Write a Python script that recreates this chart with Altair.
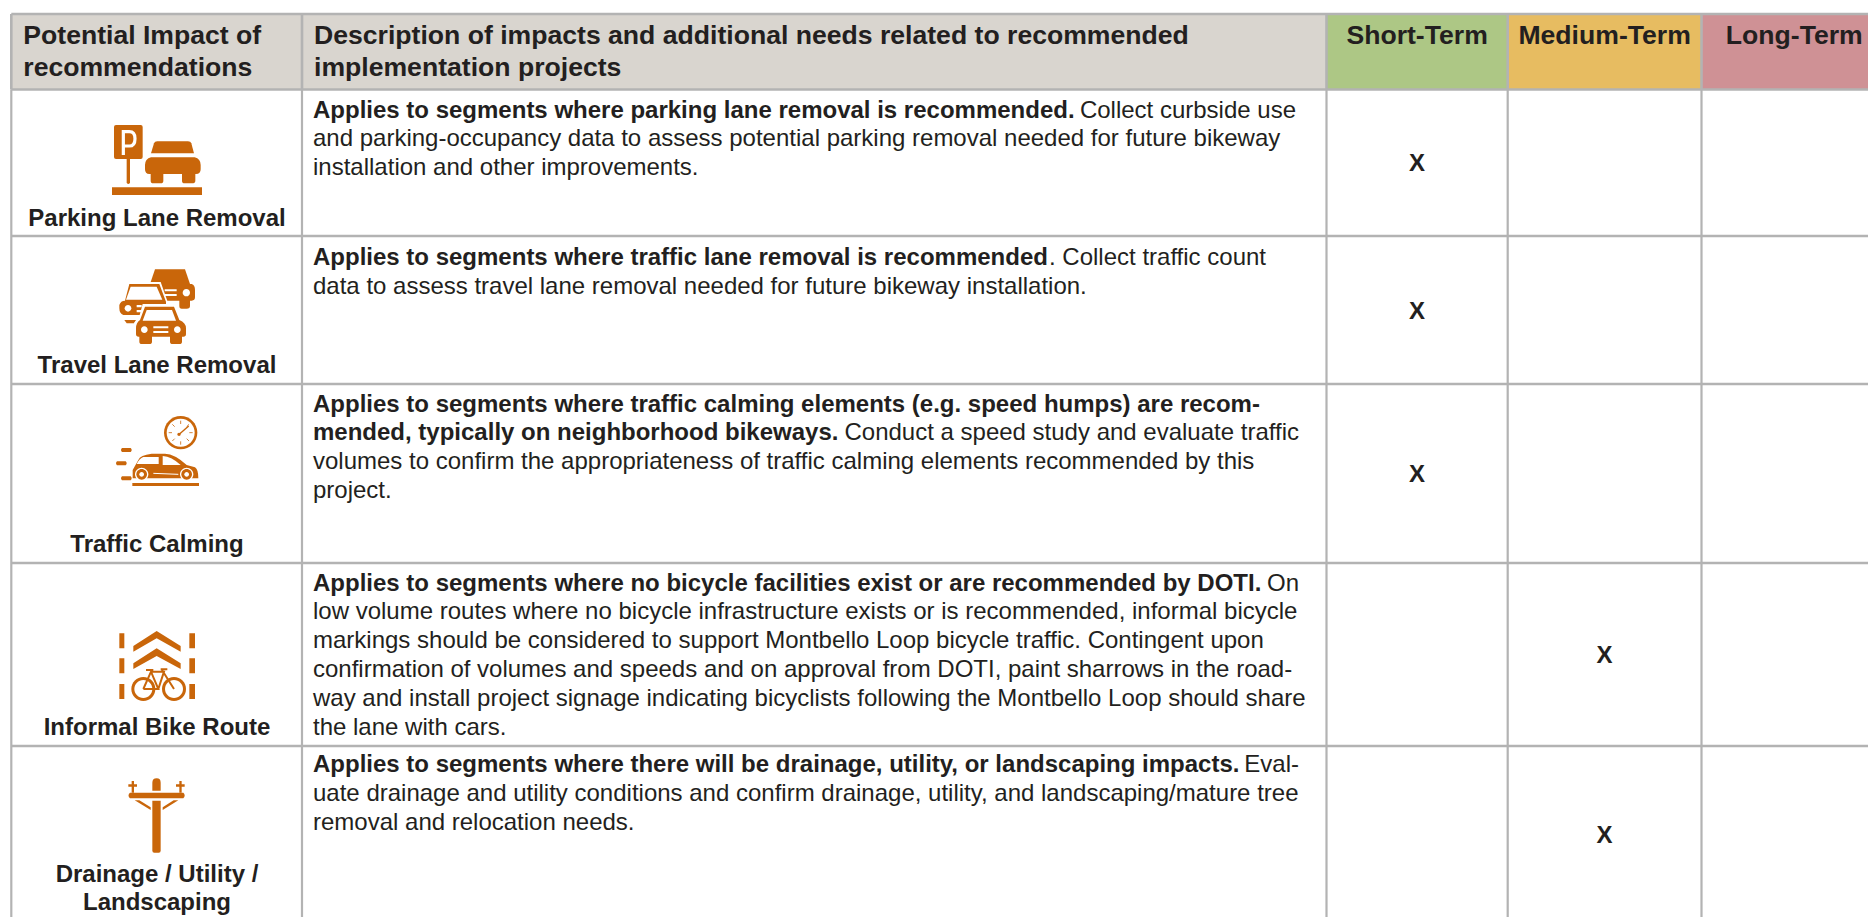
import altair as alt
import pandas as pd

# ---- content -------------------------------------------------------------
header_left = [["Potential Impact of", "recommendations"],
               ["Description of impacts and additional needs related to recommended",
                "implementation projects"]]
header_terms = ["Short-Term", "Medium-Term", "Long-Term"]
term_fills = ["#adc785", "#e7bc61", "#cf9195"]
impact_labels = [["Parking Lane Removal"], ["Travel Lane Removal"], ["Traffic Calming"],
                 ["Informal Bike Route"], ["Drainage / Utility /", "Landscaping"]]
# each line: (bold part, regular part)
descriptions = [
    [("Applies to segments where parking lane removal is recommended.", "Collect curbside use"),
     ("", "and parking-occupancy data to assess potential parking removal needed for future bikeway"),
     ("", "installation and other improvements.")],
    [("Applies to segments where traffic lane removal is recommended", ". Collect traffic count"),
     ("", "data to assess travel lane removal needed for future bikeway installation.")],
    [("Applies to segments where traffic calming elements (e.g. speed humps) are recom-", ""),
     ("mended, typically on neighborhood bikeways.", "Conduct a speed study and evaluate traffic"),
     ("", "volumes to confirm the appropriateness of traffic calming elements recommended by this"),
     ("", "project.")],
    [("Applies to segments where no bicycle facilities exist or are recommended by DOTI.", "On"),
     ("", "low volume routes where no bicycle infrastructure exists or is recommended, informal bicycle"),
     ("", "markings should be considered to support Montbello Loop bicycle traffic. Contingent upon"),
     ("", "confirmation of volumes and speeds and on approval from DOTI, paint sharrows in the road-"),
     ("", "way and install project signage indicating bicyclists following the Montbello Loop should share"),
     ("", "the lane with cars.")],
    [("Applies to segments where there will be drainage, utility, or landscaping impacts.", "Eval-"),
     ("", "uate drainage and utility conditions and confirm drainage, utility, and landscaping/mature tree"),
     ("", "removal and relocation needs.")],
]
term_marks = [0, 0, 0, 1, 1]   # which term column holds the X in each row

# ---- layout (page pixels) ------------------------------------------------
col_edges = [11.3, 302, 1326.5, 1507.7, 1701.5, 1887]
row_edges = [14, 89.5, 236, 384, 563, 746, 922]
tail_end = {(0, 0): 1296, (1, 0): 1266, (2, 1): 1299, (3, 0): 1299, (4, 0): 1299}
first_baseline = [117.5, 265, 411.5, 590.5, 772]
LINE_H = 28.8
HEAD_SIZE, BODY_SIZE, LABEL_SIZE = 26.6, 24, 24
INK, ICON, GRID = "#231f20", "#c9660a", "#b3b3b3"
W = 1868
H = 917


def circle(cx, cy, r):
    k = 0.5523 * r
    return (f"M{cx-r} {cy}C{cx-r} {cy-k} {cx-k} {cy-r} {cx} {cy-r}"
            f"C{cx+k} {cy-r} {cx+r} {cy-k} {cx+r} {cy}"
            f"C{cx+r} {cy+k} {cx+k} {cy+r} {cx} {cy+r}"
            f"C{cx-k} {cy+r} {cx-r} {cy+k} {cx-r} {cy}Z")


# Icon glyphs, in units of a third of a pixel, origin at the listed anchor.
# Each part: (path, fill colour, stroke colour or "", stroke width)
O, B = ICON, "#ffffff"
icons = [
    ((90, 110), [
        ("M78 45H152Q158 45 158 51V141Q158 147 152 147H78Q72 147 72 141V51Q72 45 78 45Z", O, "", 0),
        ("M110 147H120V218Q115 226 110 218Z", O, "", 0),
        ("M66 232H336V255H66Z", O, "", 0),
        ("M183 130L192 100Q194 94 202 94H294Q302 94 304 100L312 130Z", O, "", 0),
        ("M165 178V165Q165 147 183 142H314Q332 147 332 165V178Q332 192 318 192H316V212Q316 220 306 220H284Q276 220 276 212V192H220V212Q220 220 212 220H190Q182 220 182 212V192H178Q165 192 165 178Z", O, "", 0),
        ("M100 135V65H118Q135 65 135 86Q135 108 118 108H100", "", B, 3.2),
    ]),
    ((90, 260), [
        ("M195 28H285L300 72H180Z", O, "", 0),
        ("M210 72H305Q315 75 315 90V112Q315 122 305 122H300V138Q300 146 290 146H275Q268 146 268 138V122H210Z", O, "", 0),
        (circle(289, 98, 11), B, "", 0),
        ("M224 88H260V94H224ZM224 102H260V108H224Z", B, "", 0),
        ("M112 66H212L234 128V172H100Q82 166 82 145V135Q86 118 100 116Z", B, "", 0),
        ("M118 72H208L228 125V165H100Q88 160 88 145V135Q92 122 105 122Z", O, "", 0),
        ("M122 80H200L217 119H108Z", B, "", 0),
        (circle(114, 145, 10), B, "", 0),
        ("M140 135H155V142H140ZM140 150H155V157H140Z", B, "", 0),
        ("M103 180H138L132 190H110Z", O, "", 0),
        ("M158 132H258L276 176Q296 185 296 205V258H130V200Q130 185 146 176Z", B, "", 0),
        ("M165 140H252L268 180Q288 188 288 205V222Q288 230 280 230H276V245Q276 252 268 252H248Q240 252 240 245V230H186V245Q186 252 178 252H156Q148 252 148 245V230H146Q138 230 138 222V205Q138 188 150 180Z", O, "", 0),
        ("M170 150H246L258 182H158Z", B, "", 0),
        (circle(163, 209, 10), B, "", 0),
        (circle(262, 209, 10), B, "", 0),
        ("M190 199H235V205H190ZM190 213H235V219H190Z", B, "", 0),
    ]),
    ((90, 410), [
        (circle(272, 68, 50), O, "", 0),
        (circle(272, 68, 42), B, "", 0),
        ("M272 32V42M272 94V104M236 68H246M298 68H308M247 43L254 50M290 86L297 93M247 93L254 86M290 50L297 43", "", O, 0.8),
        ("M266 74L296 48", "", O, 1.4),
        (circle(267, 73, 5), O, "", 0),
        ("M96 114H122Q128 120 122 126H96Q90 120 96 114Z", O, "", 0),
        ("M81 154H107Q113 160 107 166H81Q75 160 81 154Z", O, "", 0),
        ("M96 199H122Q128 205 122 211H96Q90 205 96 199Z", O, "", 0),
        ("M128 205V180L145 150Q150 135 185 131H225Q255 132 290 165L315 172Q325 178 325 205Z", O, "", 0),
        ("M160 141H206V162H140Q148 146 160 141Z", B, "", 0),
        ("M218 138Q245 140 272 165H218Z", B, "", 0),
        ("M190 190L265 193", "", B, 1),
        (circle(155, 193, 20), B, "", 0),
        (circle(290, 193, 20), B, "", 0),
        (circle(155, 193, 16), O, "", 0),
        (circle(290, 193, 16), O, "", 0),
        (circle(155, 193, 7), B, "", 0),
        (circle(290, 193, 7), B, "", 0),
        ("M127 219H327V228H127Z", O, "", 0),
    ]),
    ((90, 620), [
        ("M88 40H103V85H88ZM88 115H103V160H88ZM88 192H103V237H88Z", O, "", 0),
        ("M298 40H315V85H298ZM298 115H315V160H298ZM298 192H315V237H298Z", O, "", 0),
        ("M130 78L200 33L272 78V95L200 55L130 95Z", O, "", 0),
        ("M130 130L200 85L272 130V147L200 108L130 147Z", O, "", 0),
        (circle(160, 207, 36), O, "", 0),
        (circle(160, 207, 27), B, "", 0),
        (circle(252, 207, 36), O, "", 0),
        (circle(252, 207, 27), B, "", 0),
        ("M160 207H205L183 155L160 207M183 155H222L205 207M216 150L252 207M168 150H190M212 148H232", "", O, 2),
    ]),
    ((100, 770), [
        ("M157 62V38Q157 25 170 25Q182 25 182 38V62Z", O, "", 0),
        ("M90 68H250Q258 76 250 85H90Q81 76 90 68Z", O, "", 0),
        ("M157 92H182V242Q182 248 176 248H163Q157 248 157 242Z", O, "", 0),
        ("M95 33H102V43H111V50H102V68H95V50H85V43H95Z", O, "", 0),
        ("M238 33H245V43H254V50H245V68H238V50H228V43H238Z", O, "", 0),
        ("M104 91H118L152 112V120Z", O, "", 0),
        ("M235 91H221L188 112V120Z", O, "", 0),
    ]),
]

# ---- tables --------------------------------------------------------------
cells = []
for i, fill in enumerate(["#d9d5cf", "#d9d5cf"] + term_fills):
    cells.append(dict(x=col_edges[i], x2=col_edges[i + 1], y=row_edges[0], y2=row_edges[1], fill=fill))

rules = []
for k, x in enumerate(col_edges[:-1]):
    rules.append(dict(x=x, x2=x, y=row_edges[0], y2=row_edges[1], w=2.6))
    rules.append(dict(x=x, x2=x, y=row_edges[1], y2=row_edges[-1], w=2.2))
rules.append(dict(x=col_edges[0], x2=col_edges[-1], y=row_edges[0], y2=row_edges[0], w=2.6))
rules.append(dict(x=col_edges[0], x2=col_edges[-1], y=row_edges[1], y2=row_edges[1], w=2.6))
for y in row_edges[2:-1]:
    rules.append(dict(x=col_edges[0], x2=col_edges[-1], y=y, y2=y, w=2.4))

head_l, head_c, label_c, body_b, body_r, tail_r = [], [], [], [], [], []
for c, lines in enumerate(header_left):
    for j, t in enumerate(lines):
        head_l.append(dict(x=col_edges[c] + 12, y=43.5 + 32.5 * j, t=t, s=HEAD_SIZE))
for c, t in enumerate(header_terms):
    head_c.append(dict(x=(col_edges[c + 2] + col_edges[c + 3]) / 2, y=43.5, t=t, s=HEAD_SIZE))
for r, lines in enumerate(impact_labels):
    bottom = [226, 372.5, 552, 735, 910][r]
    for j, t in enumerate(lines):
        label_c.append(dict(x=157, y=bottom - 28.5 * (len(lines) - 1 - j), t=t, s=LABEL_SIZE))
    mid = (row_edges[r + 1] + row_edges[r + 2]) / 2
    tc = term_marks[r]
    label_c.append(dict(x=(col_edges[tc + 2] + col_edges[tc + 3]) / 2, y=mid + 8.5, t="X", s=LABEL_SIZE))
for r, lines in enumerate(descriptions):
    for j, (bold, reg) in enumerate(lines):
        y = first_baseline[r] + LINE_H * j
        if bold:
            body_b.append(dict(x=313, y=y, t=bold, s=BODY_SIZE))
        if reg and (r, j) in tail_end:
            tail_r.append(dict(x=tail_end[(r, j)], y=y, t=reg, s=BODY_SIZE))
        elif reg:
            body_r.append(dict(x=313, y=y, t=reg, s=BODY_SIZE))

parts = []
for (ox, oy), glyphs in icons:
    for path, fill, stroke, sw in glyphs:
        parts.append(dict(x=ox, y=oy, path=path, fill=fill, stroke=stroke, sw=sw))
parts = pd.DataFrame(parts)

# ---- chart ---------------------------------------------------------------
X = alt.Scale(domain=[8, W], range=[0, W - 8], nice=False, zero=False)
Y = alt.Scale(domain=[8, H], range=[0, H - 8], nice=False, zero=False)
ex = alt.X("x:Q", scale=X, axis=None)
ey = alt.Y("y:Q", scale=Y, axis=None)


def text_layer(rows, weight, align):
    return alt.Chart(pd.DataFrame(rows)).mark_text(
        font="Liberation Sans", fontWeight=weight, align=align, baseline="alphabetic", color=INK
    ).encode(x=ex, y=ey, text="t:N", size=alt.Size("s:Q", scale=None, legend=None))


cell_layer = alt.Chart(pd.DataFrame(cells)).mark_rect(clip=True).encode(
    x=ex, x2="x2:Q", y=ey, y2="y2:Q", color=alt.Color("fill:N", scale=None))
rule_layer = alt.Chart(pd.DataFrame(rules)).mark_rule(color=GRID, clip=True).encode(
    x=ex, x2="x2:Q", y=ey, y2="y2:Q", strokeWidth=alt.StrokeWidth("w:Q", scale=None, legend=None))

layers = [cell_layer, rule_layer]
for _, p in parts.iterrows():
    d = pd.DataFrame([dict(x=p.x, y=p.y, path=p.path)])
    base = alt.Chart(d)
    if p.stroke:
        m = base.mark_point(filled=False, stroke=p.stroke, strokeWidth=p.sw, size=4 / 9, opacity=1)
    else:
        m = base.mark_point(filled=True, fill=p.fill, strokeWidth=0, size=4 / 9, opacity=1)
    layers.append(m.encode(x=ex, y=ey, shape=alt.Shape("path:N", scale=None, legend=None)))

layers += [
    text_layer(head_l, "bold", "left"),
    text_layer(head_c, "bold", "center"),
    text_layer(label_c, "bold", "center"),
    text_layer(body_b, "bold", "left"),
    text_layer(body_r, "normal", "left"),
    text_layer(tail_r, "normal", "right"),
]

chart = alt.layer(*layers).properties(
    width=W - 8, height=H - 8, padding=0, autosize=alt.AutoSizeParams(type="none")
).configure_view(stroke=None)
chart.save("out.html", embed_options={"renderer": "svg", "actions": False})
